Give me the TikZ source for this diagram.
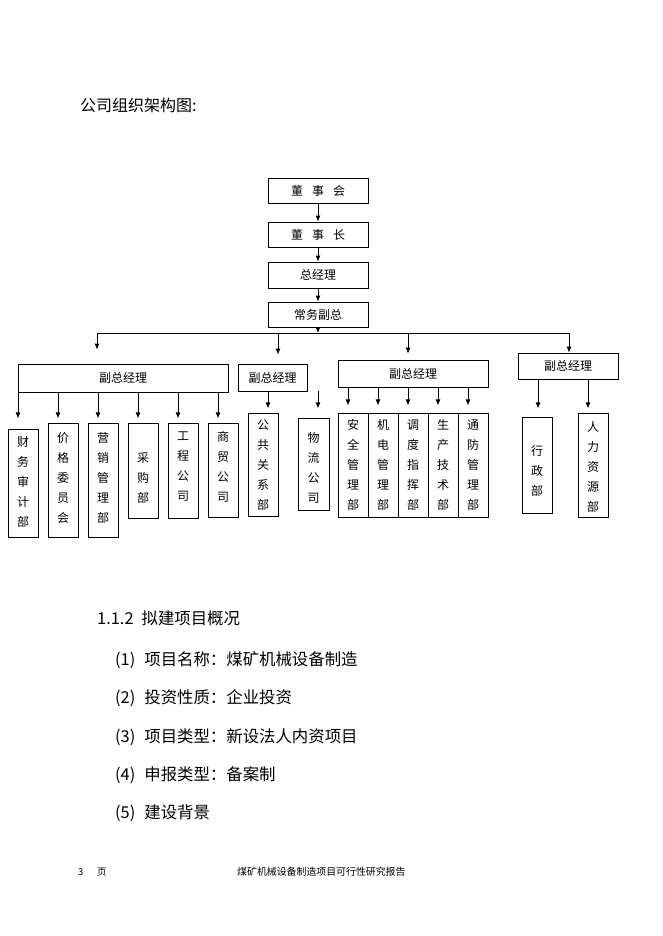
\documentclass[tikz,border=0pt]{standalone}
\usepackage{fontspec}
\setmainfont{Noto Sans CJK SC}
\usetikzlibrary{arrows.meta,calc}
\begin{document}
\begin{tikzpicture}[x=1pt,y=-1pt,
  box/.style={draw=black,line width=0.8pt,inner sep=0pt,align=center,font=\fontsize{12}{14}\selectfont},
  vbox/.style={draw=black,line width=0.8pt,inner sep=0pt,minimum width=30pt},
  vtext/.style={inner sep=0pt,align=center,font=\fontsize{12}{20}\selectfont},
  arr/.style={line width=0.8pt,-{Latex[length=6pt,width=5pt]}},
  ln/.style={line width=0.8pt},
  txt/.style={inner sep=0pt,anchor=west}]
\useasboundingbox (0,0) rectangle (662,936);
\fill[white] (0,0) rectangle (662,936);

% title
\node[txt,font=\fontsize{16}{18}\selectfont] (title) at (80,105) {公司组织架构图:};

% top chain
\node[box,minimum width=100pt,minimum height=25pt] (dsh) at (318,190.5) {董\hspace{9pt}事\hspace{9pt}会};
\node[box,minimum width=100pt,minimum height=25pt] (dsz) at (318,234.5) {董\hspace{9pt}事\hspace{9pt}长};
\node[box,minimum width=100pt,minimum height=26pt] (zjl) at (318,275) {总经理};
\node[box,minimum width=100pt,minimum height=25pt] (cwfz) at (318,314.5) {常务副总};
\draw[arr] (dsh) -- (dsz);
\draw[arr] (dsz) -- (zjl);
\draw[arr] (zjl) -- (cwfz);

\coordinate (hub) at (318,333);
\coordinate (b1) at (97,333);
\coordinate (b2) at (278,333);
\coordinate (b3) at (408,333);
\coordinate (b4) at (569,333);
\draw[arr] (cwfz.south) -- (hub);
\draw[ln] (b1) -- (b4);

% vice general managers
\node[box,minimum width=210pt,minimum height=28pt] (vp1) at (123,378) {副总经理};
\node[box,minimum width=69pt,minimum height=27pt] (vp2) at (272.5,377.5) {副总经理};
\node[box,minimum width=150pt,minimum height=27pt] (vp3) at (413,373.5) {副总经理};
\node[box,minimum width=100pt,minimum height=26pt] (vp4) at (568,366) {副总经理};

\draw[arr,shorten >=14pt] (b1) -- (b1 |- vp1.north);
\draw[arr,shorten >=9pt] (b2) -- (b2 |- vp2.north);
\draw[arr,shorten >=6pt] (b3) -- (b3 |- vp3.north);
\draw[arr] (b4) -- (b4 |- vp4.north);

% departments under vp1
\node[vbox,minimum height=108pt] (cw) at (23,483) {};
\node[vtext] (cwt) at (23,482) {财\\务\\审\\计\\部};
\node[vbox,minimum height=114pt] (jg) at (63,480) {};
\node[vtext] (jgt) at (63,478) {价\\格\\委\\员\\会};
\node[vbox,minimum height=114pt] (yx) at (103,480) {};
\node[vtext] (yxt) at (103,478) {营\\销\\管\\理\\部};
\node[vbox,minimum height=95pt] (cg) at (143,470.5) {};
\node[vtext] (cgt) at (143,478) {采\\购\\部};
\node[vbox,minimum height=95pt] (gc) at (183,470.5) {};
\node[vtext] (gct) at (183,467) {工\\程\\公\\司};
\node[vbox,minimum height=94pt] (sm) at (223,470) {};
\node[vtext] (smt) at (223,467) {商\\贸\\公\\司};
\foreach \c in {cw,jg,yx,cg,gc,sm}
  \draw[arr] ($(\c.north |- vp1.south)+(-5,0)$) -- ++(0,26);

% under vp2
\node[vbox,minimum height=103pt] (gg) at (263,464.5) {};
\node[vtext] (ggt) at (263,465) {公\\共\\关\\系\\部};
\node[vbox,minimum width=31pt,minimum height=92pt] (wl) at (313.5,464) {};
\node[vtext] (wlt) at (313.5,468) {物\\流\\公\\司};
\draw[arr] ($(gg.north |- vp2.south)+(5,0)$) -- ++(0,17);
\draw[arr] ($(wl.north |- vp2.south)+(4.5,0)$) -- ++(0,17);

% under vp3
\node[vbox,minimum height=104pt] (aq) at (353,465) {};
\node[vtext] (aqt) at (353,465) {安\\全\\管\\理\\部};
\node[vbox,minimum height=104pt] (jd) at (383,465) {};
\node[vtext] (jdt) at (383,465) {机\\电\\管\\理\\部};
\node[vbox,minimum height=104pt] (dd) at (413,465) {};
\node[vtext] (ddt) at (413,465) {调\\度\\指\\挥\\部};
\node[vbox,minimum height=104pt] (sc) at (443,465) {};
\node[vtext] (sct) at (443,465) {生\\产\\技\\术\\部};
\node[vbox,minimum height=104pt] (tf) at (473,465) {};
\node[vtext] (tft) at (473,465) {通\\防\\管\\理\\部};
\foreach \c in {aq,jd,dd,sc,tf}
  \draw[arr] ($(\c.north |- vp3.south)+(-5,0)$) -- ++(0,18);

% under vp4
\node[vbox,minimum height=96pt] (xz) at (537,465) {};
\node[vtext] (xzt) at (537,471) {行\\政\\部};
\node[vbox,minimum height=104pt] (rl) at (593,465) {};
\node[vtext] (rlt) at (593,467) {人\\力\\资\\源\\部};
\draw[arr] ($(xz.north |- vp4.south)+(1,0)$) -- ++(0,29);
\draw[arr] ($(rl.north |- vp4.south)+(-5,0)$) -- ++(0,29);

% section text
\node[txt,font=\fontsize{16.4}{18}\selectfont] (sec) at (97,618) {1.1.2\hspace{8pt}拟建项目概况};
\node[txt,font=\fontsize{16.4}{18}\selectfont] (i1) at (115,660) {(1)\hspace{9pt}项目名称：煤矿机械设备制造};
\node[txt,font=\fontsize{16.4}{18}\selectfont] (i2) at (115,698) {(2)\hspace{9pt}投资性质：企业投资};
\node[txt,font=\fontsize{16.4}{18}\selectfont] (i3) at (115,737) {(3)\hspace{9pt}项目类型：新设法人内资项目};
\node[txt,font=\fontsize{16.4}{18}\selectfont] (i4) at (115,775) {(4)\hspace{9pt}申报类型：备案制};
\node[txt,font=\fontsize{16.4}{18}\selectfont] (i5) at (115,813) {(5)\hspace{9pt}建设背景};

% footer
\node[txt,font=\fontsize{9.5}{11}\selectfont] (pg) at (78,872) {3};
\node[txt,font=\fontsize{9.5}{11}\selectfont] (pgy) at (97,872) {页};
\node[txt,font=\fontsize{9.9}{11}\selectfont] (ft) at (237,872) {煤矿机械设备制造项目可行性研究报告};
\end{tikzpicture}
\end{document}
